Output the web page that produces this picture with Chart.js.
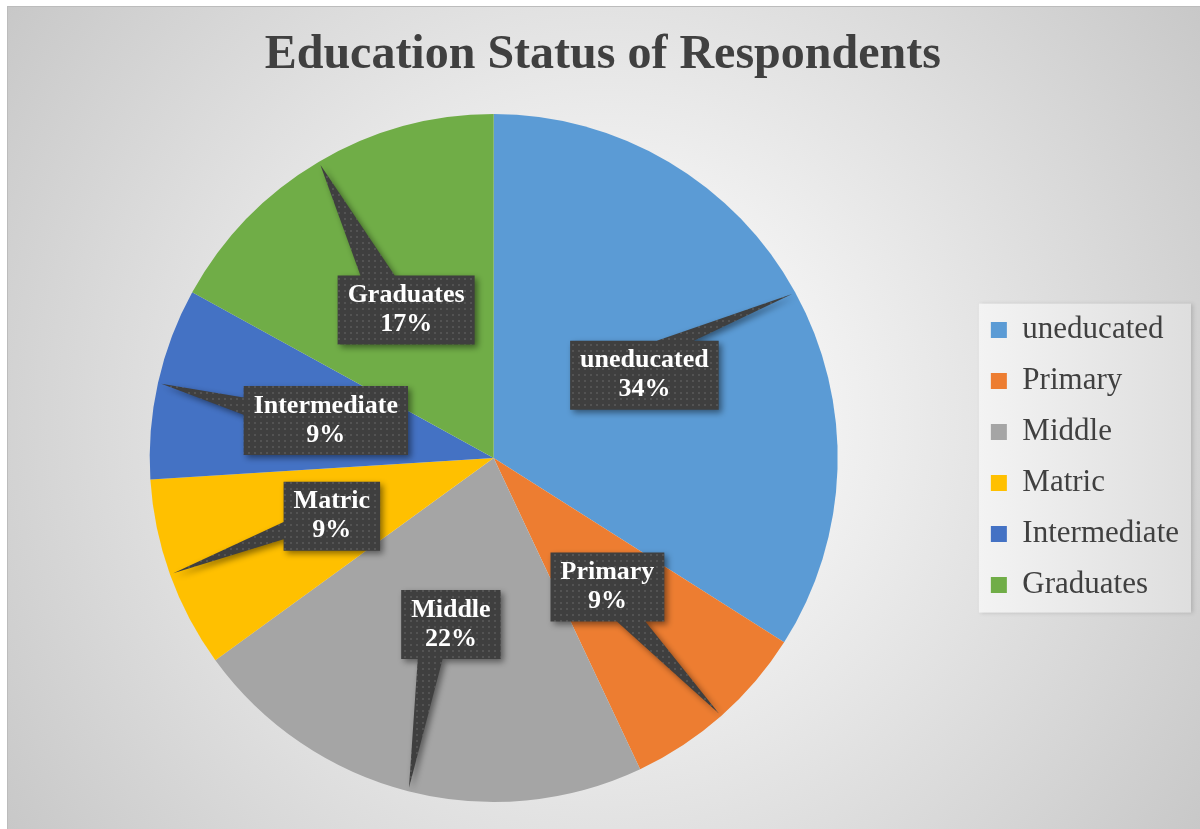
<!DOCTYPE html>
<html>
<head>
<meta charset="utf-8">
<script src="https://cdn.jsdelivr.net/npm/chart.js@4"></script>
<style>
  html, body { margin: 0; padding: 0; background: #fff; }
  #frame {
    position: absolute; left: 7px; top: 6px; width: 1193px; height: 823px;
    box-sizing: border-box; border-left: 1px solid #bcbcbc; border-top: 1px solid #bcbcbc;
    background: radial-gradient(circle farthest-corner at 50% 50%, #ffffff 0%, #f2f2f2 30%, #c8c8c8 100%);
  }
  #wrap { position: absolute; left: 0; top: 0; width: 1200px; height: 829px; }
</style>
</head>
<body>
<div id="frame"></div>
<div id="wrap"><canvas id="eduChart" width="1200" height="829"></canvas></div>
<script>
// data
const categories = ['uneducated', 'Primary', 'Middle', 'Matric', 'Intermediate', 'Graduates'];
const percentages = [34, 9, 22, 9, 9, 17];
const sliceColors = ['#5B9BD5', '#ED7D31', '#A5A5A5', '#FFC000', '#4472C4', '#70AD47'];

const serif = '"Liberation Serif", "Times New Roman", serif';

// dotted dark fill used by the callout boxes
const tile = document.createElement('canvas');
tile.width = 6;
tile.height = 6;
const tctx = tile.getContext('2d');
tctx.fillStyle = '#3f3f3f';
tctx.fillRect(0, 0, 6, 6);
tctx.fillStyle = '#535353';
tctx.fillRect(2, 2, 2, 2);

// light panel behind the legend
const legendPanel = {
    id: 'legendPanel',
    beforeDraw(chart) {
        const boxes = chart.legend && chart.legend.legendHitBoxes;
        if (!boxes || !boxes.length) return;
        const left = Math.min(...boxes.map(b => b.left)) - 12;
        const right = Math.max(...boxes.map(b => b.left + b.width)) + 12;
        const top = Math.min(...boxes.map(b => b.top)) - 11;
        const bottom = Math.max(...boxes.map(b => b.top + b.height)) + 12;
        const ctx = chart.ctx;
        ctx.save();
        const g = ctx.createLinearGradient(left, 0, right, 0);
        g.addColorStop(0, '#f3f3f3');
        g.addColorStop(1, '#dedede');
        ctx.shadowColor = 'rgba(0,0,0,0.15)';
        ctx.shadowBlur = 4;
        ctx.shadowOffsetX = 2;
        ctx.fillStyle = g;
        ctx.fillRect(left, top, right - left, bottom - top);
        ctx.restore();
    }
};

// wedge callouts holding name and share
const callouts = {
    id: 'callouts',
    afterDatasetsDraw(chart) {
        const ctx = chart.ctx;
        const meta = chart.getDatasetMeta(0);
        const total = percentages.reduce((a, b) => a + b, 0);
        const pattern = ctx.createPattern(tile, 'repeat');
        ctx.save();
        ctx.font = 'bold 26px ' + serif;
        meta.data.forEach((arc, i) => {
            const p = arc.getProps(['x', 'y', 'startAngle', 'endAngle', 'outerRadius'], true);
            const mid = (p.startAngle + p.endAngle) / 2;
            const cx = p.x + Math.cos(mid) * p.outerRadius * 0.5;
            const cy = p.y + Math.sin(mid) * p.outerRadius * 0.5;
            const tx = p.x + Math.cos(mid) * p.outerRadius * 0.99;
            const ty = p.y + Math.sin(mid) * p.outerRadius * 0.99;
            const lines = [categories[i], Math.round(percentages[i] / total * 100) + '%'];
            const w = Math.max(...lines.map(t => ctx.measureText(t).width)) + 20;
            const h = 69;
            const x0 = cx - w / 2, x1 = cx + w / 2, y0 = cy - h / 2, y1 = cy + h / 2;
            const dx = (tx - cx) / w, dy = (ty - cy) / h;

            ctx.beginPath();
            ctx.moveTo(x0, y0);
            if (Math.abs(dx) <= Math.abs(dy) && dy < 0) {
                const f = dx < 0 ? [2, 5] : [7, 10];
                ctx.lineTo(x0 + w * f[0] / 12, y0);
                ctx.lineTo(tx, ty);
                ctx.lineTo(x0 + w * f[1] / 12, y0);
            }
            ctx.lineTo(x1, y0);
            if (Math.abs(dx) > Math.abs(dy) && dx > 0) {
                const f = dy < 0 ? [2, 5] : [7, 10];
                ctx.lineTo(x1, y0 + h * f[0] / 12);
                ctx.lineTo(tx, ty);
                ctx.lineTo(x1, y0 + h * f[1] / 12);
            }
            ctx.lineTo(x1, y1);
            if (Math.abs(dx) <= Math.abs(dy) && dy >= 0) {
                const f = dx < 0 ? [2, 5] : [7, 10];
                ctx.lineTo(x0 + w * f[1] / 12, y1);
                ctx.lineTo(tx, ty);
                ctx.lineTo(x0 + w * f[0] / 12, y1);
            }
            ctx.lineTo(x0, y1);
            if (Math.abs(dx) > Math.abs(dy) && dx <= 0) {
                const f = dy < 0 ? [2, 5] : [7, 10];
                ctx.lineTo(x0, y0 + h * f[1] / 12);
                ctx.lineTo(tx, ty);
                ctx.lineTo(x0, y0 + h * f[0] / 12);
            }
            ctx.closePath();

            ctx.shadowColor = 'rgba(0,0,0,0.45)';
            ctx.shadowBlur = 6;
            ctx.shadowOffsetX = 3;
            ctx.shadowOffsetY = 3;
            ctx.fillStyle = pattern;
            ctx.fill();

            ctx.shadowColor = 'transparent';
            ctx.fillStyle = '#ffffff';
            ctx.textAlign = 'center';
            ctx.textBaseline = 'middle';
            ctx.fillText(lines[0], cx, cy - 14.5);
            ctx.fillText(lines[1], cx, cy + 14.5);
        });
        ctx.restore();
    }
};

const eduCtx = document.getElementById('eduChart').getContext('2d');
const eduChart = new Chart(eduCtx, {
    type: 'pie',
    data: {
        labels: categories,
        datasets: [{
            data: percentages,
            backgroundColor: sliceColors,
            borderWidth: 0,
            hoverOffset: 0
        }]
    },
    options: {
        responsive: false,
        animation: false,
        layout: {
            padding: { left: 16.5, right: 11, top: 0, bottom: 27 }
        },
        plugins: {
            title: {
                display: true,
                text: 'Education Status of Respondents',
                color: '#404040',
                font: { family: serif, size: 48, weight: 'bold' },
                padding: { top: 26.6, bottom: 29.8 }
            },
            legend: {
                position: 'right',
                title: {
                    display: true,
                    text: '',
                    font: { size: 1 },
                    padding: { top: 112, bottom: 0 }
                },
                labels: {
                    color: '#404040',
                    font: { family: serif, size: 31 },
                    boxWidth: 16,
                    boxHeight: 16,
                    padding: 20
                }
            },
            tooltip: { enabled: false }
        }
    },
    plugins: [legendPanel, callouts]
});
</script>
</body>
</html>
